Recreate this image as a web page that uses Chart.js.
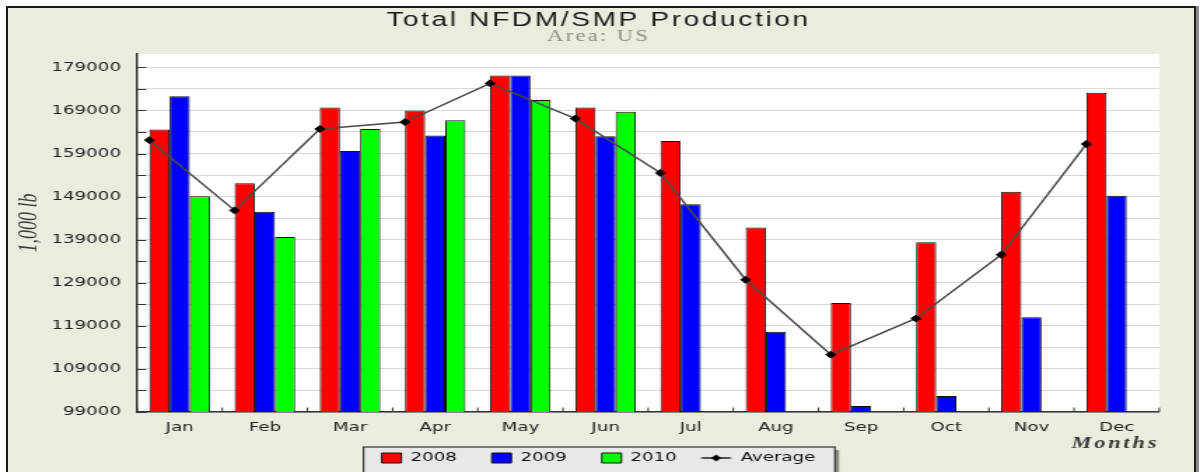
<!DOCTYPE html>
<html>
<head>
<meta charset="utf-8">
<title>Total NFDM/SMP Production</title>
<script src="https://cdn.jsdelivr.net/npm/chart.js@4.4.1/dist/chart.umd.min.js"></script>
<style>
	html, body { margin: 0; padding: 0; background: #fff; overflow: hidden; }
	/* beige panel with the dark frame and right shadow */
	#frame { position: absolute; left: 6px; top: 6px; width: 1186px; height: 500px;
	         background: #ebebde; border: 2px solid #1c1c1c; box-shadow: 3px 0 0 #8a8a8a; }
	/* the original chart is drawn narrow and stretched sideways, so do the same */
	#viz { position: absolute; left: 0; top: 0; width: 857px; height: 472px;
	       transform: scaleX(1.4002); transform-origin: 0 0; }
</style>
</head>
<body>
<div id="frame"></div>
<canvas id="viz" width="857" height="472"></canvas>
<script>

// data (1,000 lb)
var months = ['Jan', 'Feb', 'Mar', 'Apr', 'May', 'Jun', 'Jul', 'Aug', 'Sep', 'Oct', 'Nov', 'Dec'];
var prod2008 = [164600, 152100, 169700, 169000, 177100, 169700, 161900, 141800, 124300, 138400, 150100, 173100];
var prod2009 = [172300, 145500, 159600, 163200, 177100, 163000, 147200, 117600, 100400, 102700, 121000, 149200];
var prod2010 = [149100, 139600, 164700, 166700, 171400, 168700, null, null, null, null, null, null];
var avgProd  = [162100, 145800, 164700, 166300, 175300, 167100, 154500, 129700, 112300, 120700, 135500, 161200];

// y axis: a grid line every 5000, a label every 10000
var yTicks = [99000, 104000, 109000, 114000, 119000, 124000, 129000, 134000, 139000,
              144000, 149000, 154000, 159000, 164000, 169000, 174000, 179000];
var yLabelled = [99000, 109000, 119000, 129000, 139000, 149000, 159000, 169000, 179000];

// the average markers sit on the left edge of each bar group (in category units)
var groupHalf = 0.355;

var tickFont = { family: "'DejaVu Sans'", size: 13 };

// legend swatch for the average: a short line with a diamond on it
var avgSwatch = document.createElement('canvas');
avgSwatch.width = 42;
avgSwatch.height = 10;
(function() {
	var c = avgSwatch.getContext('2d');
	c.strokeStyle = '#222';
	c.lineWidth = 1.5;
	c.beginPath();
	c.moveTo(6.5, 5);
	c.lineTo(27.5, 5);
	c.stroke();
	c.fillStyle = '#000';
	c.beginPath();
	c.moveTo(17, 1.5);
	c.lineTo(20.5, 5);
	c.lineTo(17, 8.5);
	c.lineTo(13.5, 5);
	c.closePath();
	c.fill();
})();

// wrap a draw method: letter spacing for the wide titles, and an optional nudge
function tweakDraw(obj, method, gap, dx, dy) {
	if (!obj || obj[method].tweaked) return;
	var orig = obj[method];
	obj[method] = function() {
		var ctx = this.ctx;
		ctx.save();
		ctx.letterSpacing = gap;
		ctx.translate(dx || 0, dy || 0);
		var r = orig.apply(this, arguments);
		ctx.restore();
		return r;
	};
	obj[method].tweaked = true;
}

var frameBits = {
	id: 'frameBits',

	afterInit: function(chart) {
		chart.boxes.forEach(function(box) {
			if (!box.options) return;
			if (box.options.text === 'Total NFDM/SMP Production') tweakDraw(box, 'draw', '1.9px');
			if (box.options.text === 'Area: US') tweakDraw(box, 'draw', '1.7px');
		});
	},

	afterLayout: function(chart) {
		tweakDraw(chart.scales.x, 'drawTitle', '2px');
		tweakDraw(chart.scales.y, 'drawTitle', '0px', 0, -10);
		// pull the legend up so it sits just under the axis title, like the original
		var lg = chart.legend;
		lg.top = 458 - 6.5 - lg.options.labels.padding;
		lg.bottom = lg.top + lg.height;
	},

	// average markers go on the left edge of each group
	afterDatasetsUpdate: function(chart) {
		var x = chart.scales.x;
		chart.getDatasetMeta(3).data.forEach(function(pt, i) {
			pt.x = x.getPixelForValue(i - groupHalf);
		});
	},

	// white plot area and the grey legend box
	beforeDraw: function(chart) {
		var ctx = chart.ctx, a = chart.chartArea;
		ctx.save();
		ctx.fillStyle = '#fff';
		ctx.fillRect(a.left, a.top, a.right - a.left, a.bottom - a.top);

		var boxes = chart.legend.legendHitBoxes;
		if (boxes && boxes.length) {
			var first = boxes[0], last = boxes[boxes.length - 1];
			var bx = first.left - 13, by = first.top + 6.5 - 11;
			var bw = last.left + last.width + 14 - bx, bh = 40;
			ctx.fillStyle = '#8a8a8a';
			ctx.fillRect(bx + 3, by + 3, bw, bh);
			ctx.fillStyle = '#e8e8e8';
			ctx.fillRect(bx, by, bw, bh);
			ctx.strokeStyle = '#333';
			ctx.lineWidth = 1.2;
			ctx.strokeRect(bx, by, bw, bh);
		}
		ctx.restore();
	},

	// small tick marks pointing into the plot
	afterDraw: function(chart) {
		var ctx = chart.ctx, a = chart.chartArea;
		var y = chart.scales.y, x = chart.scales.x;
		ctx.save();
		ctx.strokeStyle = '#333';
		ctx.lineWidth = 1;
		ctx.beginPath();
		yTicks.forEach(function(v) {
			var py = Math.round(y.getPixelForValue(v)) + 0.5;
			ctx.moveTo(a.left, py);
			ctx.lineTo(a.left + 6.5, py);
		});
		for (var i = 0; i <= months.length; i++) {
			var px = x.getPixelForValue(i - 0.5);
			ctx.moveTo(px, a.bottom);
			ctx.lineTo(px, a.bottom - 4.5);
		}
		ctx.stroke();
		ctx.restore();
	}
};

var config = {
	type: 'bar',
	data: {
		labels: months,
		datasets: [
			{ label: '2008', data: prod2008, backgroundColor: '#ff0000', borderColor: '#111', borderWidth: 1, order: 1 },
			{ label: '2009', data: prod2009, backgroundColor: '#0000ff', borderColor: '#111', borderWidth: 1, order: 1 },
			{ label: '2010', data: prod2010, backgroundColor: '#00ff00', borderColor: '#111', borderWidth: 1, order: 1 },
			{
				type: 'line',
				label: 'Average',
				data: avgProd,
				order: 0,
				borderColor: '#4a4a4a',
				backgroundColor: '#000',
				borderWidth: 1.5,
				tension: 0,
				pointStyle: 'rectRot',
				pointRadius: 3.5,
				pointBackgroundColor: '#000',
				pointBorderColor: '#000',
				pointBorderWidth: 1
			}
		]
	},
	options: {
		responsive: false,
		animation: false,
		categoryPercentage: 0.71,
		barPercentage: 1,
		layout: { padding: { left: 27, right: 29.1, top: 0, bottom: -12 } },
		scales: {
			x: {
				type: 'category',
				offset: true,
				grid: { display: false, drawTicks: false },
				border: { color: '#333', width: 1.5 },
				ticks: { color: '#222', font: tickFont, padding: 8.2, maxRotation: 0 },
				title: {
					display: true,
					text: 'Months',
					align: 'end',
					color: '#3a3a3a',
					font: { family: "'Liberation Serif'", style: 'italic', weight: 'bold', size: 16, lineHeight: 1 },
					padding: { top: 0, bottom: -16 }
				},
				afterFit: function(scale) { scale.height = 24; }
			},
			y: {
				min: 99000,
				max: 182100,
				grid: { color: '#d9d9d9', lineWidth: 1, drawTicks: false },
				border: { color: '#333', width: 1.5 },
				afterBuildTicks: function(scale) {
					scale.ticks = yTicks.map(function(v) { return { value: v }; });
				},
				ticks: {
					color: '#222',
					font: tickFont,
					padding: 11.5,
					autoSkip: false,
					callback: function(v) { return yLabelled.indexOf(v) >= 0 ? String(v) : ''; }
				},
				title: {
					display: true,
					text: '1,000 lb',
					color: '#3a3a3a',
					font: { family: "'Liberation Serif'", style: 'italic', size: 18, lineHeight: 1 },
					padding: { top: -14.5, bottom: 0 }
				},
				afterFit: function(scale) { scale.width = 70.9; }
			}
		},
		plugins: {
			title: {
				display: true,
				text: 'Total NFDM/SMP Production',
				color: '#1a1a1a',
				font: { family: "'Liberation Sans'", size: 20, weight: 'normal', lineHeight: 1 },
				padding: { top: 10, bottom: -1.7 }
			},
			subtitle: {
				display: true,
				text: 'Area: US',
				color: '#8f8f80',
				font: { family: "'Liberation Serif'", size: 16, lineHeight: 1 },
				padding: { top: 0, bottom: 9.7 }
			},
			legend: {
				position: 'bottom',
				labels: {
					color: '#111',
					font: tickFont,
					usePointStyle: true,
					pointStyleWidth: 14,
					boxHeight: 10,
					padding: 25,
					sort: function(a, b) { return a.datasetIndex - b.datasetIndex; },
					generateLabels: function(chart) {
						var items = Chart.defaults.plugins.legend.labels.generateLabels(chart);
						items.forEach(function(item) {
							item.pointStyle = item.datasetIndex === 3 ? avgSwatch : 'rect';
						});
						return items;
					}
				}
			},
			tooltip: { enabled: false }
		}
	},
	plugins: [frameBits]
};

var graph = new Chart(document.getElementById('viz'), config);
</script>
</body>
</html>
